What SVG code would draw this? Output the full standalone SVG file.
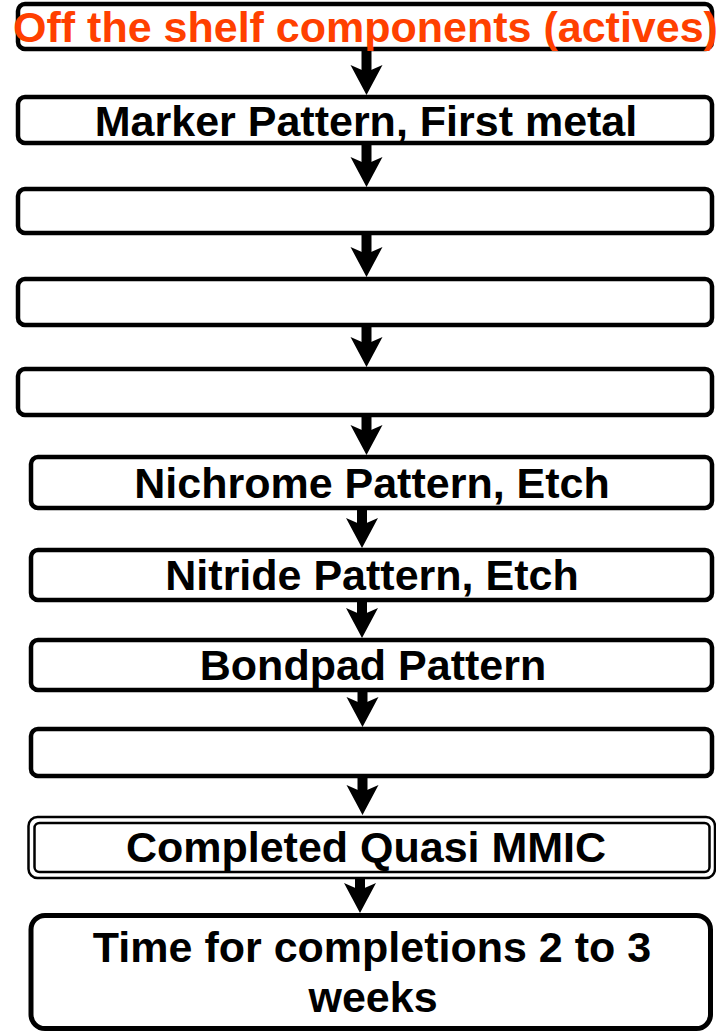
<svg xmlns="http://www.w3.org/2000/svg" width="716" height="1032" viewBox="0 0 716 1032">
<style>
.box{fill:#fff;stroke:#000;stroke-width:4.5}
.dbl{fill:none;stroke:#000;stroke-width:2.5}
.t{font-family:"Liberation Sans",Arial,sans-serif;font-weight:bold;font-size:43px;fill:#000;text-anchor:middle}
.red{fill:#FF4000}
.shaft{stroke:#000;stroke-width:10}
.head{fill:#000}
</style>
<defs>
<path id="ah" d="M-16,-30 L0,-23 L16,-30 L0,0 Z"/>
</defs>
<rect width="716" height="1032" fill="#fff"/>
<g id="connectors">
<line class="shaft" x1="366.5" y1="50" x2="366.5" y2="75"/><use href="#ah" class="head" x="366.5" y="95"/>
<line class="shaft" x1="366.5" y1="145" x2="366.5" y2="167"/><use href="#ah" class="head" x="366.5" y="187"/>
<line class="shaft" x1="366.5" y1="235" x2="366.5" y2="257"/><use href="#ah" class="head" x="366.5" y="277"/>
<line class="shaft" x1="366.5" y1="327" x2="366.5" y2="347"/><use href="#ah" class="head" x="366.5" y="367"/>
<line class="shaft" x1="366.5" y1="417" x2="366.5" y2="435"/><use href="#ah" class="head" x="366.5" y="455"/>
<line class="shaft" x1="362" y1="510" x2="362" y2="528"/><use href="#ah" class="head" x="362" y="548"/>
<line class="shaft" x1="362" y1="602" x2="362" y2="618"/><use href="#ah" class="head" x="362" y="638"/>
<line class="shaft" x1="362.5" y1="692" x2="362.5" y2="707"/><use href="#ah" class="head" x="362.5" y="727"/>
<line class="shaft" x1="362.5" y1="778" x2="362.5" y2="795"/><use href="#ah" class="head" x="362.5" y="815"/>
<line class="shaft" x1="360" y1="879" x2="360" y2="893"/><use href="#ah" class="head" x="360" y="913"/>
</g>
<g id="n1"><rect class="box" x="18" y="4" width="694" height="45" rx="7"/><text class="t red" x="365.5" y="42">Off the shelf components (actives)</text></g>
<g id="n2"><rect class="box" x="18" y="97" width="694" height="46" rx="7"/><text class="t" x="366" y="136">Marker Pattern, First metal</text></g>
<g id="n3"><rect class="box" x="18" y="189" width="694" height="44" rx="7"/></g>
<g id="n4"><rect class="box" x="18" y="279" width="694" height="46" rx="7"/></g>
<g id="n5"><rect class="box" x="18" y="369" width="694" height="46" rx="7"/></g>
<g id="n6"><rect class="box" x="31" y="457" width="681" height="51" rx="7"/><text class="t" x="372" y="498">Nichrome Pattern, Etch</text></g>
<g id="n7"><rect class="box" x="31" y="550" width="681" height="50" rx="7"/><text class="t" x="372" y="590">Nitride Pattern, Etch</text></g>
<g id="n8"><rect class="box" x="31" y="640" width="681" height="50" rx="7"/><text class="t" x="373" y="680">Bondpad Pattern</text></g>
<g id="n9"><rect class="box" x="31" y="729" width="681" height="47" rx="7"/></g>
<g id="n10"><rect x="28.5" y="817" width="686.5" height="61" rx="9" fill="#fff" class="dbl"/><rect class="dbl" x="34.5" y="823" width="675" height="49" rx="5"/><text class="t" x="366" y="862">Completed Quasi MMIC</text></g>
<g id="n11"><rect class="box" style="stroke-width:5" x="31" y="915.5" width="679.5" height="113" rx="14"/><text class="t" x="372" y="962">Time for completions 2 to 3</text><text class="t" x="373" y="1012">weeks</text></g>
</svg>
